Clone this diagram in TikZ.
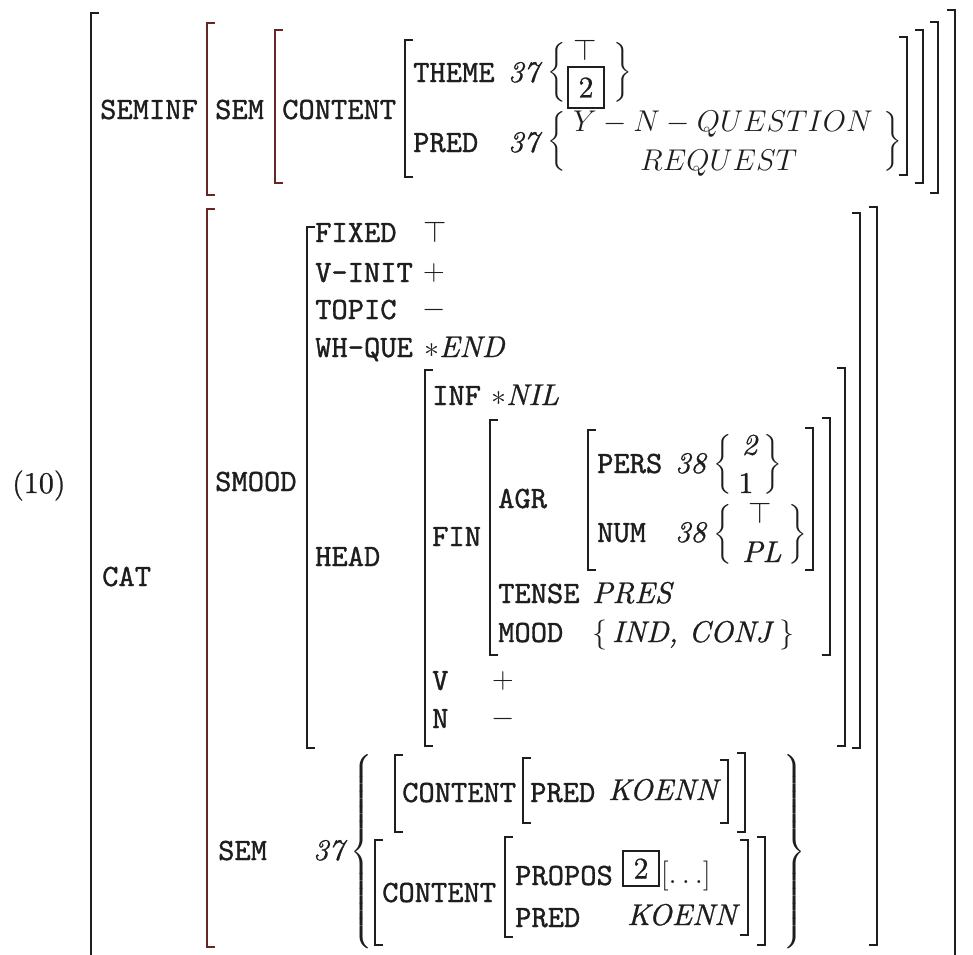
\RequirePackage{fix-cm}
\documentclass[tikz,border=0pt]{standalone}
\usepackage{amsmath}
\usepackage{fontspec}
\setmainfont{lmroman10-regular.otf}[ItalicFont=lmroman10-italic.otf, FakeBold=0.8]
\setmonofont{lmmono10-regular.otf}[FakeBold=1.1]
\usetikzlibrary{calc}

\definecolor{ink}{RGB}{30,30,30}
\definecolor{inkred}{RGB}{100,38,38}

% brackets of the matrix: x, top, bottom
\newcommand{\lbrk}[4][ink]{\draw[brk,#1] (#2+8,#3) -- (#2,#3) -- (#2,#4) -- (#2+8,#4);}
\newcommand{\rbrk}[4][ink]{\draw[brk,#1] (#2-8,#3) -- (#2,#3) -- (#2,#4) -- (#2-8,#4);}
\newcommand{\bsize}[1]{\vrule height \dimexpr#1pt+7pt\relax depth \dimexpr#1pt-7pt\relax width 0pt}

\begin{document}
\begin{tikzpicture}[x=1pt, y=-1pt,
    every node/.style={inner sep=0pt, text=ink, font=\fontsize{30}{36}\selectfont},
    feat/.style={anchor=base west, font=\fontsize{31}{36}\selectfont\ttfamily},
    val/.style={anchor=base west},
    brace/.style={anchor=west},
    tag/.style={draw=ink, line width=1.4pt, minimum width=36pt, anchor=center},
    brk/.style={line width=1.8pt}]
    \useasboundingbox (0,0) rectangle (973,954);

    % outer frame
    \lbrk{91}{13}{962}
    \rbrk{955}{10}{962}
    \node[val] (ex) at (12,493) {(10)};

    % SEMINF part
    \node[feat] (seminf) at (100,119) {SEMINF};
    \lbrk[inkred]{207}{23}{195}
    \rbrk{938}{22}{193}
    \node[feat] (semA) at (215,119) {SEM};
    \lbrk[inkred]{275}{30}{183}
    \rbrk{923}{30}{183}
    \node[feat] (contA) at (282,119) {CONTENT};
    \lbrk{405}{40}{177}
    \rbrk{907}{37}{175}
    \node[feat] (theme) at (413,82) {THEME};
    \node[val] (themetag) at (508,82) {\textit{37}};
    \node[brace] (themeL) at (547,72.5) {$\left\{\bsize{30}\right.$};
    \node (themetop) at (585,50) {$\top$};
    \node[tag, minimum height=41pt] (themebox) at (586,87.5) {2};
    \node[brace] (themeR) at (612,72.5) {$\left.\bsize{30}\right\}$};
    \node[feat] (predA) at (413,152) {PRED};
    \node[val] (predtag) at (508,152) {\textit{37}};
    \node[brace] (predL) at (547,141.5) {$\left\{\bsize{31}\right.$};
    \node[val] (ynq) at (573,131) {$Y-N-QUESTION$};
    \node[val] (req) at (640,170) {$REQUEST$};
    \node[brace] (predR) at (882,141.5) {$\left.\bsize{31}\right\}$};

    % CAT part
    \node[feat] (cat) at (102,586) {CAT};
    \lbrk[inkred]{207}{209}{947}
    \rbrk{877}{207}{945}
    \node[feat] (smood) at (215,491) {SMOOD};
    \lbrk{307}{227}{748}
    \rbrk{860}{213}{748}
    \node[feat] (fixed) at (315,242) {FIXED};
    \node[val] (fixedv) at (423,242) {$\top$};
    \node[feat] (vinit) at (315,282) {V-INIT};
    \node (vinitv) at (434,273) {$+$};
    \node[feat] (topic) at (315,319) {TOPIC};
    \node (topicv) at (434,310) {$-$};
    \node[feat] (whque) at (315,357) {WH-QUE};
    \node[val] (whquev) at (424,357) {$*$\textit{END}};
    \node[feat] (head) at (315,566) {HEAD};
    \lbrk{425}{370}{746}
    \rbrk{845}{368}{746}
    \node[feat] (inf) at (432,405) {INF};
    \node[val] (infv) at (491,405) {$*$\textit{NIL}};
    \node[feat] (fin) at (432,546) {FIN};
    \lbrk{490}{420}{655}
    \rbrk{830}{418}{655}
    \node[feat] (agr) at (498,508) {AGR};
    \lbrk{588}{430}{570}
    \rbrk{813}{428}{570}
    \node[feat] (pers) at (597,473) {PERS};
    \node[val] (perstag) at (675,473) {\textit{38}};
    \node[brace] (persL) at (713,464) {$\left\{\bsize{28}\right.$};
    \node (perstwo) at (750,445) {\textit{2}};
    \node (persone) at (746,483) {1};
    \node[brace] (persR) at (762,464) {$\left.\bsize{28}\right\}$};
    \node[feat] (num) at (597,542) {NUM};
    \node[val] (numtag) at (675,542) {\textit{38}};
    \node[brace] (numL) at (713,535) {$\left\{\bsize{31}\right.$};
    \node (numtop) at (760,513) {$\top$};
    \node[val] (numpl) at (742,562) {\textit{PL}};
    \node[brace] (numR) at (787,535) {$\left.\bsize{31}\right\}$};
    \node[feat] (tense) at (498,603) {TENSE};
    \node[val] (tensev) at (592,603) {\textit{PRES}};
    \node[feat] (mood) at (498,642) {MOOD};
    \node[val] (moodv) at (592,642) {$\{\,$\textit{IND, CONJ}$\,\}$};
    \node[feat] (v) at (432,690) {V};
    \node (vv) at (503,681) {$+$};
    \node[feat] (n) at (432,728) {N};
    \node (nv) at (503,719) {$-$};

    % lower SEM
    \node[feat] (semB) at (218,860) {SEM};
    \node[val] (semBtag) at (313,860) {\textit{37}};
    \node[brace] (semBL) at (350,851.5) {$\left\{\bsize{93}\right.$};
    \node[brace] (semBR) at (782,851.5) {$\left.\bsize{93}\right\}$};
    \lbrk{395}{755}{832}
    \rbrk{745}{753}{832}
    \node[feat] (contB) at (402,802) {CONTENT};
    \lbrk{523}{758}{823}
    \rbrk{728}{760}{823}
    \node[feat] (predB) at (530,802) {PRED};
    \node[val] (predBv) at (608,800) {\textit{KOENN}};
    \lbrk{375}{840}{945}
    \rbrk{765}{837}{945}
    \node[feat] (contC) at (382,902) {CONTENT};
    \lbrk{505}{837}{937}
    \rbrk{748}{840}{935}
    \node[feat] (propos) at (515,885) {PROPOS};
    \node[tag, minimum height=35pt] (proposbox) at (641,868.5) {2};
    \node[val] (proposv) at (661,883) {$[\ldots]$};
    \node[feat] (predC) at (515,927) {PRED};
    \node[val] (predCv) at (627,925) {\textit{KOENN}};
\end{tikzpicture}
\end{document}
